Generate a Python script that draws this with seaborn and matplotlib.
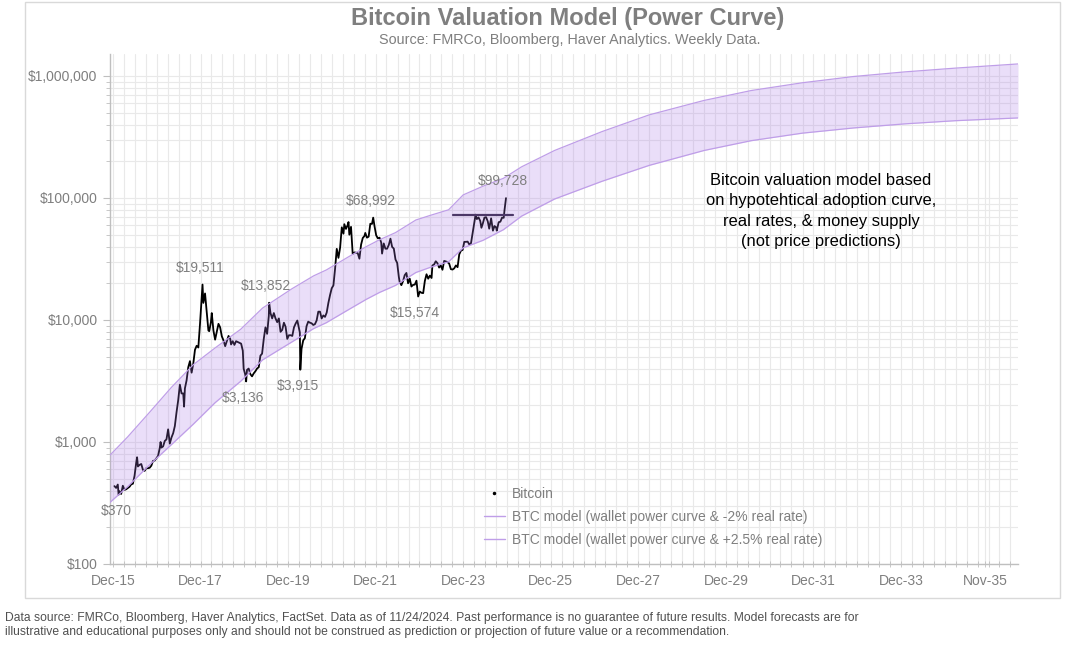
import matplotlib
matplotlib.use("Agg")
import numpy as np
import pandas as pd
import matplotlib.pyplot as plt
import matplotlib.dates as mdates
import matplotlib.ticker as mticker
from matplotlib.lines import Line2D
from matplotlib.patches import Rectangle
import seaborn as sns

# ---------------- data ----------------
btc_dates = [
    "2015-12-13", "2015-12-27", "2016-01-10", "2016-01-17", "2016-01-24", "2016-02-07", "2016-02-21",
    "2016-03-06", "2016-03-20", "2016-04-03", "2016-04-17", "2016-05-01", "2016-05-15", "2016-05-29",
    "2016-06-12", "2016-06-19", "2016-06-26", "2016-07-10", "2016-07-24", "2016-08-07", "2016-08-21",
    "2016-09-04", "2016-09-18", "2016-10-02", "2016-10-16", "2016-10-30", "2016-11-13", "2016-11-27",
    "2016-12-11", "2016-12-25", "2017-01-01", "2017-01-08", "2017-01-22", "2017-02-05", "2017-02-19",
    "2017-03-05", "2017-03-19", "2017-04-02", "2017-04-16", "2017-04-30", "2017-05-14", "2017-05-28",
    "2017-06-11", "2017-06-25", "2017-07-09", "2017-07-16", "2017-07-23", "2017-08-06", "2017-08-20",
    "2017-09-03", "2017-09-17", "2017-10-01", "2017-10-15", "2017-10-29", "2017-11-12", "2017-11-26",
    "2017-12-10", "2017-12-17", "2017-12-24", "2018-01-07", "2018-01-21", "2018-02-04", "2018-02-11",
    "2018-02-25", "2018-03-04", "2018-03-18", "2018-04-01", "2018-04-15", "2018-04-29", "2018-05-13",
    "2018-05-27", "2018-06-10", "2018-06-24", "2018-07-08", "2018-07-22", "2018-08-05", "2018-08-12",
    "2018-08-26", "2018-09-09", "2018-09-23", "2018-10-07", "2018-10-21", "2018-11-04", "2018-11-18",
    "2018-11-25", "2018-12-09", "2018-12-16", "2018-12-23", "2019-01-06", "2019-01-20", "2019-02-03",
    "2019-02-17", "2019-03-03", "2019-03-17", "2019-03-31", "2019-04-14", "2019-04-28", "2019-05-12",
    "2019-05-26", "2019-06-09", "2019-06-23", "2019-06-26", "2019-07-07", "2019-07-21", "2019-08-04",
    "2019-08-18", "2019-09-01", "2019-09-15", "2019-09-29", "2019-10-13", "2019-10-27", "2019-11-10",
    "2019-11-24", "2019-12-08", "2019-12-22", "2020-01-05", "2020-01-19", "2020-02-02", "2020-02-16",
    "2020-03-01", "2020-03-08", "2020-03-12", "2020-03-22", "2020-04-05", "2020-04-19", "2020-05-03",
    "2020-05-17", "2020-05-31", "2020-06-14", "2020-06-28", "2020-07-12", "2020-07-26", "2020-08-09",
    "2020-08-23", "2020-09-06", "2020-09-20", "2020-10-04", "2020-10-18", "2020-11-01", "2020-11-15",
    "2020-11-29", "2020-12-13", "2020-12-27", "2021-01-10", "2021-01-24", "2021-02-07", "2021-02-21",
    "2021-03-07", "2021-03-14", "2021-03-28", "2021-04-11", "2021-04-18", "2021-04-25", "2021-05-09",
    "2021-05-23", "2021-06-06", "2021-06-20", "2021-07-04", "2021-07-18", "2021-08-01", "2021-08-15",
    "2021-08-29", "2021-09-05", "2021-09-19", "2021-10-03", "2021-10-17", "2021-10-31", "2021-11-10",
    "2021-11-21", "2021-12-05", "2021-12-19", "2022-01-02", "2022-01-16", "2022-01-23", "2022-02-06",
    "2022-02-20", "2022-03-06", "2022-03-20", "2022-04-03", "2022-04-17", "2022-05-01", "2022-05-15",
    "2022-05-29", "2022-06-12", "2022-06-19", "2022-07-03", "2022-07-17", "2022-07-31", "2022-08-14",
    "2022-08-28", "2022-09-11", "2022-09-25", "2022-10-09", "2022-10-23", "2022-11-06", "2022-11-20",
    "2022-12-04", "2022-12-18", "2023-01-01", "2023-01-15", "2023-01-29", "2023-02-12", "2023-02-26",
    "2023-03-12", "2023-03-19", "2023-04-02", "2023-04-16", "2023-04-30", "2023-05-14", "2023-05-28",
    "2023-06-11", "2023-06-25", "2023-07-09", "2023-07-23", "2023-08-06", "2023-08-20", "2023-09-03",
    "2023-09-17", "2023-10-01", "2023-10-15", "2023-10-29", "2023-11-12", "2023-11-26", "2023-12-10",
    "2023-12-24", "2024-01-07", "2024-01-21", "2024-02-04", "2024-02-18", "2024-03-03", "2024-03-13",
    "2024-03-24", "2024-04-07", "2024-04-21", "2024-05-01", "2024-05-12", "2024-05-26", "2024-06-09",
    "2024-06-23", "2024-07-05", "2024-07-21", "2024-08-05", "2024-08-18", "2024-09-01", "2024-09-06",
    "2024-09-22", "2024-10-06", "2024-10-20", "2024-11-03", "2024-11-10", "2024-11-17", "2024-11-22",
]
btc_prices = [
    435, 420, 448, 370, 395, 375, 438,
    405, 410, 420, 430, 450, 455, 530,
    680, 750, 630, 650, 660, 590, 580,
    610, 610, 615, 640, 700, 705, 735,
    770, 890, 1000, 900, 920, 1020, 1050,
    1270, 970, 1090, 1180, 1350, 1750, 2200,
    2950, 2500, 2500, 1950, 2750, 3200, 4100,
    4600, 3700, 4400, 5700, 6150, 5950, 9300,
    15000, 19511, 13800, 16500, 11500, 8200, 8100,
    9600, 11400, 8200, 6900, 8000, 9300, 8700,
    7350, 6800, 6100, 6700, 7400, 7000, 6300,
    6700, 6250, 6700, 6600, 6500, 6400, 5600,
    4000, 3550, 3136, 3900, 4000, 3600, 3450,
    3650, 3800, 4000, 4100, 5100, 5300, 7000,
    8700, 7700, 10800, 13852, 11400, 10300, 11400,
    10300, 9600, 10300, 8000, 8300, 9500, 8800,
    7000, 7500, 7500, 7400, 8700, 9350, 9900,
    8500, 7900, 3915, 5800, 6800, 7100, 8900,
    9700, 9500, 9400, 9100, 9250, 9900, 11700,
    11700, 10300, 10900, 10600, 11500, 13800, 16000,
    18200, 19200, 26300, 38300, 32300, 39200, 57500,
    51000, 61000, 55800, 60000, 63500, 50000, 58000,
    34700, 35800, 35600, 35300, 31800, 41500, 47000,
    48800, 51700, 47300, 48200, 61500, 61300, 68992,
    58700, 49400, 46700, 47300, 43100, 35000, 42400,
    38400, 38400, 41200, 46400, 39700, 38500, 31300,
    29400, 22500, 20500, 19300, 20800, 23300, 24300,
    20000, 21800, 18800, 19400, 19500, 21000, 15574,
    17100, 16700, 16600, 20900, 23700, 21800, 23100,
    22100, 28000, 28500, 30300, 29200, 26900, 28000,
    25800, 30500, 30200, 29800, 29000, 26100, 25900,
    26500, 28000, 27100, 34500, 37000, 37500, 43700,
    43700, 43900, 41600, 42600, 51600, 63100, 73000,
    67200, 69300, 64900, 57000, 61500, 69000, 69600,
    64300, 56000, 68100, 54000, 58900, 57300, 54000,
    63300, 63900, 69000, 68800, 80000, 90600, 99728,
]

model_dates = [
    "2015-11-06", "2016-04-01", "2016-10-01", "2017-04-01", "2017-10-01", "2018-04-01",
    "2018-11-01", "2019-05-01", "2020-01-01", "2020-07-01", "2020-10-15", "2021-04-15",
    "2021-09-15", "2022-01-01", "2022-05-15", "2022-11-01", "2023-03-01", "2023-08-01",
    "2023-12-01", "2024-05-15", "2024-11-01", "2025-04-01", "2026-01-01", "2027-02-01",
    "2028-03-01", "2029-06-01", "2030-07-01", "2031-09-01", "2032-11-01", "2034-01-01",
    "2035-03-01", "2036-08-03",
]
model_minus2 = [  # wallet power curve & -2% real rate (upper)
    780, 1100, 1750, 2800, 4300, 5900,
    8400, 12500, 18000, 23000, 25700, 32800,
    40000, 45400, 52000, 66000, 72000, 80000,
    106000, 125000, 145000, 180000, 245000, 350000,
    480000, 630000, 760000, 880000, 990000, 1080000,
    1160000, 1255000,
]
model_plus25 = [  # wallet power curve & +2.5% real rate (lower)
    320, 430, 650, 950, 1400, 2100,
    3150, 4700, 6600, 8500, 9500, 12100,
    14800, 16800, 19200, 24500, 27000, 30000,
    39000, 45000, 55000, 71000, 98000, 137000,
    185000, 245000, 295000, 340000, 375000, 405000,
    430000, 453000,
]

peak_texts = ["$370", "$19,511", "$3,136", "$13,852", "$3,915", "$68,992", "$15,574", "$99,728"]
peak_dates = ["2016-01-17", "2017-12-17", "2018-12-16", "2019-06-26", "2020-03-12",
              "2021-11-10", "2022-11-20", "2024-11-22"]
peak_values = [370, 19511, 3136, 13852, 3915, 68992, 15574, 99728]
peak_is_high = [False, True, False, True, False, True, False, True]

prior_high_dates = ["2023-09-10", "2025-01-20"]
prior_high_value = 73000

tick_dates = ["2015-12-01", "2017-12-01", "2019-12-01", "2021-12-01", "2023-12-01", "2025-12-01",
              "2027-12-01", "2029-12-01", "2031-12-01", "2033-12-01", "2035-11-01"]
tick_labels = ["Dec-15", "Dec-17", "Dec-19", "Dec-21", "Dec-23", "Dec-25",
               "Dec-27", "Dec-29", "Dec-31", "Dec-33", "Nov-35"]

# ---------------- style ----------------
sns.set_theme(style="white")
plt.rcParams["font.family"] = ["Liberation Sans", "DejaVu Sans"]

GRAY_TXT = "#7f7f7f"
GRID = "#e9e9e9"
BAND_EDGE = "#bf9ee8"

btc = pd.DataFrame({"date": pd.to_datetime(btc_dates), "price": btc_prices})
model = pd.DataFrame({"date": pd.to_datetime(model_dates),
                      "upper": model_minus2, "lower": model_plus25})

fig = plt.figure(figsize=(10.9, 6.45), dpi=100)
ax = fig.add_axes([110 / 1090, 1 - 564 / 645, (1018 - 110) / 1090, (564 - 54) / 645])

ax.set_yscale("log")
ax.set_ylim(100, 1.514e6)
ax.set_xlim(pd.Timestamp("2015-11-06"), pd.Timestamp("2036-08-03"))

# price line (under the translucent band)
sns.lineplot(data=btc, x="date", y="price", ax=ax, color="black", lw=1.3,
             legend=False, zorder=2)
ax.plot(pd.to_datetime(prior_high_dates), [prior_high_value] * 2,
        color="#2f2540", lw=1.6, zorder=2)

# band
ax.fill_between(model["date"], model["lower"], model["upper"],
                color="#a977e6", alpha=0.24, lw=0, zorder=3)
sns.lineplot(data=model, x="date", y="upper", ax=ax, color=BAND_EDGE, lw=0.9,
             legend=False, zorder=4)
sns.lineplot(data=model, x="date", y="lower", ax=ax, color=BAND_EDGE, lw=0.9,
             legend=False, zorder=4)

# annotations
for txt, d, v, hi in zip(peak_texts, peak_dates, peak_values, peak_is_high):
    ax.annotate(txt, xy=(pd.Timestamp(d), v), xytext=(-2, 12 if hi else -12),
                textcoords="offset points", ha="center", va="center",
                fontsize=10, color=GRAY_TXT, zorder=6)

# axes formatting
ax.set_xlabel("")
ax.set_ylabel("")
ax.set_axisbelow(True)
ax.yaxis.set_major_locator(mticker.LogLocator(base=10))
ax.yaxis.set_minor_locator(mticker.LogLocator(base=10, subs=np.arange(2, 10)))
ax.yaxis.set_major_formatter(mticker.FuncFormatter(lambda v, p: f"${v:,.0f}"))
ax.yaxis.set_minor_formatter(mticker.NullFormatter())

ax.set_xticks(pd.to_datetime(tick_dates))
ax.set_xticklabels(tick_labels)
ax.xaxis.set_minor_locator(mdates.MonthLocator(bymonth=[3, 6, 9, 12], bymonthday=1))

ax.grid(True, which="both", axis="both", color=GRID, lw=0.8)
for s in ["top", "right"]:
    ax.spines[s].set_visible(False)
for s in ["left", "bottom"]:
    ax.spines[s].set_color("#bfbfbf")
    ax.spines[s].set_linewidth(1.0)

ax.tick_params(axis="y", which="major", direction="out", length=5, width=0.8,
               color="#bfbfbf", labelsize=10, labelcolor=GRAY_TXT, pad=4, left=True)
ax.tick_params(axis="y", which="minor", direction="out", length=3, width=0.6,
               color="#bfbfbf", left=True)
ax.tick_params(axis="x", which="both", direction="inout", length=5, width=0.6,
               color="#bfbfbf", labelsize=10, labelcolor=GRAY_TXT, pad=5, bottom=True)

# legend
handles = [
    Line2D([], [], marker=".", ls="none", color="black", markersize=3),
    Line2D([], [], color=BAND_EDGE, lw=1.0),
    Line2D([], [], color=BAND_EDGE, lw=1.0),
]
labels = ["Bitcoin",
          "BTC model (wallet power curve & -2% real rate)",
          "BTC model (wallet power curve & +2.5% real rate)"]
leg = ax.legend(handles, labels, loc="upper left",
                bbox_to_anchor=(484 / 1090, 1 - 487 / 645), bbox_transform=fig.transFigure,
                frameon=False, fontsize=10, borderpad=0, borderaxespad=0,
                handlelength=1.5, handletextpad=0.5, labelspacing=0.64)
for t in leg.get_texts():
    t.set_color(GRAY_TXT)

# model note
fig.text(821 / 1090, 1 - 211 / 645,
         "Bitcoin valuation model based\non hypotehtical adoption curve,\nreal rates, & money supply\n(not price predictions)",
         ha="center", va="center", fontsize=11.9, color="black", linespacing=1.42)

# titles
fig.text(568 / 1090, 1 - 18 / 645, "Bitcoin Valuation Model (Power Curve)",
         ha="center", va="center", fontsize=17, fontweight="bold", color=GRAY_TXT)
fig.text(570 / 1090, 1 - 40 / 645, "Source: FMRCo, Bloomberg, Haver Analytics. Weekly Data.",
         ha="center", va="center", fontsize=10.4, color=GRAY_TXT)

# outer frame
fig.add_artist(Rectangle((25 / 1090, 1 - 598 / 645), (1060 - 25) / 1090, (598 - 2) / 645,
                         transform=fig.transFigure, fill=False, edgecolor="#d9d9d9", lw=1))

# footnote
foot_font = ["Liberation Sans Narrow", "Liberation Sans", "DejaVu Sans"]
fig.text(5 / 1090, 1 - 618 / 645,
         "Data source: FMRCo, Bloomberg, Haver Analytics, FactSet. Data as of 11/24/2024. Past performance is no guarantee of future results. Model forecasts are for",
         ha="left", va="center", fontsize=8.75, color="#505050", family=foot_font)
fig.text(5 / 1090, 1 - 632 / 645,
         "illustrative and educational purposes only and should not be construed as prediction or projection of future value or a recommendation.",
         ha="left", va="center", fontsize=8.75, color="#505050", family=foot_font)

fig.savefig("out.png", dpi=100)
